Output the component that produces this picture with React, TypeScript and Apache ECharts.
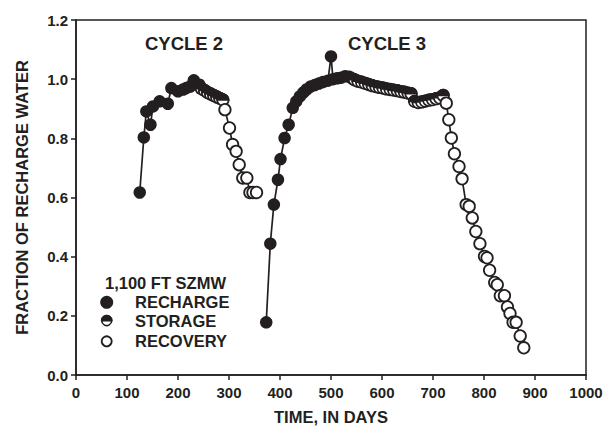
import React, { useEffect, useRef } from "react";
import * as echarts from "echarts";

// ---- data (day, fraction of recharge water) ----
const cycle2Recharge: [number, number][] = [
  [125, 0.617], [133, 0.803], [138, 0.891], [146, 0.846], [151, 0.908],
  [164, 0.925], [180, 0.917], [187, 0.97], [200, 0.959], [210, 0.965],
  [216, 0.97], [224, 0.975], [231, 0.996], [242, 0.981],
];
const cycle2Storage: [number, number][] = [
  [246, 0.968], [252, 0.962], [258, 0.955], [264, 0.95], [270, 0.945],
  [276, 0.94], [282, 0.935], [288, 0.93],
];
const cycle2Recovery: [number, number][] = [
  [292, 0.897], [301, 0.835], [307, 0.779], [314, 0.756], [320, 0.711],
  [327, 0.666], [335, 0.666], [341, 0.617], [347, 0.617], [354, 0.617],
];
const cycle3Recharge: [number, number][] = [
  [373, 0.178], [381, 0.444], [388, 0.576], [396, 0.66], [401, 0.73],
  [409, 0.801], [417, 0.846], [425, 0.903], [432, 0.925], [439, 0.942],
  [446, 0.955], [452, 0.965], [460, 0.975], [468, 0.98], [476, 0.985],
  [484, 0.99], [494, 0.995], [500, 1.077], [504, 1.0], [512, 1.003],
  [520, 1.005], [528, 1.01], [536, 1.008], [541, 1.003],
];
const cycle3Storage: [number, number][] = [
  [546, 0.998], [553, 0.993], [560, 0.99], [567, 0.986], [574, 0.982],
  [581, 0.978], [588, 0.975], [595, 0.972], [602, 0.97], [609, 0.967],
  [616, 0.965], [623, 0.963], [630, 0.961], [637, 0.958], [644, 0.956],
  [651, 0.953], [657, 0.951], [664, 0.925], [671, 0.921], [678, 0.923],
  [685, 0.926], [692, 0.929], [699, 0.931], [706, 0.934], [713, 0.937],
  [720, 0.945],
];
const cycle3Recovery: [number, number][] = [
  [726, 0.919], [731, 0.863], [736, 0.801], [742, 0.748], [751, 0.705],
  [757, 0.663], [765, 0.576], [771, 0.57], [777, 0.531], [784, 0.485],
  [792, 0.444], [801, 0.401], [806, 0.396], [811, 0.354], [821, 0.313],
  [826, 0.305], [832, 0.268], [840, 0.268], [846, 0.23], [851, 0.208],
  [857, 0.178], [863, 0.178], [871, 0.132], [878, 0.092],
];

const cycleLabels = ["CYCLE 2", "CYCLE 3"];
const legendTitle = "1,100 FT SZMW";
const legendNames = ["RECHARGE", "STORAGE", "RECOVERY"];
const xAxisName = "TIME, IN DAYS";
const yAxisName = "FRACTION OF RECHARGE WATER";

const INK = "#231f20";
const FONT = "'Liberation Sans', Arial, Helvetica, sans-serif";

export default function App() {
  const ref = useRef<HTMLDivElement>(null);

  useEffect(() => {
    if (!ref.current) return;
    const chart = echarts.init(ref.current, null, { renderer: "svg" });

    const storageItem = (params: any, api: any) => {
      const pt = api.coord([api.value(0), api.value(1)]);
      const r = 5.8;
      return {
        type: "group",
        children: [
          {
            type: "circle",
            shape: { cx: pt[0], cy: pt[1], r },
            style: { fill: "#fff", stroke: INK, lineWidth: 1.6 },
          },
          {
            type: "sector",
            shape: {
              cx: pt[0], cy: pt[1], r0: 0, r,
              startAngle: Math.PI, endAngle: Math.PI * 2, clockwise: true,
            },
            style: { fill: INK, stroke: INK, lineWidth: 1.6 },
          },
        ],
      };
    };

    const lineSeries = (data: [number, number][]) => ({
      type: "line",
      data,
      symbol: "none",
      showSymbol: false,
      lineStyle: { color: INK, width: 1.7 },
      z: 1,
      silent: true,
    });
    const filled = (data: [number, number][]) => ({
      type: "scatter",
      data,
      symbol: "circle",
      symbolSize: 12.5,
      itemStyle: { color: INK, opacity: 1 },
      z: 2,
    });
    const open = (data: [number, number][]) => ({
      type: "scatter",
      data,
      symbol: "circle",
      symbolSize: 11.5,
      itemStyle: { color: "#fff", borderColor: INK, borderWidth: 1.8, opacity: 1 },
      z: 4,
    });
    const half = (data: [number, number][]) => ({
      type: "custom",
      coordinateSystem: "cartesian2d",
      data,
      encode: { x: 0, y: 1 },
      renderItem: storageItem,
      z: 3,
    });

    const textStyle = (size: number) => ({
      fill: INK,
      font: `bold ${size}px ${FONT}`,
    });

    const legendX = 106.7;
    const legendTextX = 135;
    const rows = [302.3, 320.6, 341.3];

    chart.setOption({
      animation: false,
      backgroundColor: "#fff",
      grid: {
        left: 76, right: 27, top: 20, bottom: 56,
        containLabel: false,
        show: true, borderColor: INK, borderWidth: 1.5,
      },
      xAxis: {
        type: "value",
        min: 0, max: 1000, interval: 100,
        name: xAxisName,
        nameLocation: "middle",
        nameGap: 33,
        nameTextStyle: { color: INK, fontFamily: FONT, fontWeight: "bold", fontSize: 16.5 },
        axisLine: { show: true, lineStyle: { color: INK, width: 1.5 } },
        axisTick: { show: true, inside: false, length: 5, lineStyle: { color: INK, width: 1.5 } },
        axisLabel: {
          color: INK, fontFamily: FONT, fontWeight: "bold", fontSize: 15, margin: 10,
          formatter: (v: number) => String(v),
        },
        splitLine: { show: false },
      },
      yAxis: {
        type: "value",
        min: 0, max: 1.2, interval: 0.2,
        name: yAxisName,
        nameLocation: "middle",
        nameGap: 46,
        nameTextStyle: { color: INK, fontFamily: FONT, fontWeight: "bold", fontSize: 16.5 },
        axisLine: { show: true, lineStyle: { color: INK, width: 1.5 } },
        axisTick: { show: true, inside: false, length: 5, lineStyle: { color: INK, width: 1.5 } },
        axisLabel: {
          color: INK, fontFamily: FONT, fontWeight: "bold", fontSize: 15, margin: 8,
          formatter: (v: number) => v.toFixed(1),
        },
        splitLine: { show: false },
      },
      series: [
        lineSeries([...cycle2Recharge, ...cycle2Storage, ...cycle2Recovery]),
        lineSeries([...cycle3Recharge, ...cycle3Storage, ...cycle3Recovery]),
        filled(cycle2Recharge),
        filled(cycle3Recharge),
        half(cycle2Storage),
        half(cycle3Storage),
        open(cycle2Recovery),
        open(cycle3Recovery),
      ],
      graphic: [
        { type: "text", left: 145, top: 34, style: { text: cycleLabels[0], ...textStyle(18.5) } },
        { type: "text", left: 348, top: 34, style: { text: cycleLabels[1], ...textStyle(18.5) } },
        {
          type: "text", x: 105, y: 282.5,
          style: { text: legendTitle, ...textStyle(16.5), textVerticalAlign: "middle", verticalAlign: "middle" },
        },
        { type: "circle", shape: { cx: legendX, cy: rows[0], r: 6.5 }, style: { fill: INK } },
        { type: "circle", shape: { cx: legendX, cy: rows[1], r: 5 }, style: { fill: "#fff", stroke: INK, lineWidth: 1.6 } },
        {
          type: "sector",
          shape: { cx: legendX, cy: rows[1], r0: 0, r: 5, startAngle: Math.PI, endAngle: Math.PI * 2, clockwise: true },
          style: { fill: INK, stroke: INK, lineWidth: 1.6 },
        },
        { type: "circle", shape: { cx: legendX, cy: rows[2], r: 5 }, style: { fill: "#fff", stroke: INK, lineWidth: 1.8 } },
        ...legendNames.map((name, i) => ({
          type: "text", x: legendTextX, y: rows[i],
          style: { text: name, ...textStyle(16.5), textVerticalAlign: "middle", verticalAlign: "middle" },
        })),
      ],
    });

    return () => chart.dispose();
  }, []);

  return <div ref={ref} style={{ width: 613, height: 431, position: "absolute", left: 0, top: 0 }} />;
}
